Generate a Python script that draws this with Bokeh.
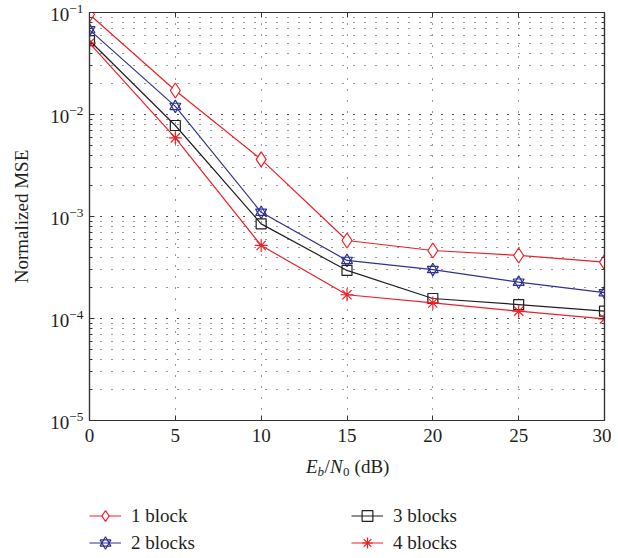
from bokeh.plotting import figure
from bokeh.layouts import column
from bokeh.models import (LogAxis, LinearAxis, Legend, LegendItem, Label, FixedTicker,
                          LogTicker, BasicTickFormatter, CustomLabelingPolicy, Range1d)
from bokeh.embed import file_html
from bokeh.resources import INLINE

# ---- data ----
ebn0_db = [0, 5, 10, 15, 20, 25, 30]
mse_1_block = [9.55e-2, 1.72e-2, 3.63e-3, 5.82e-4, 4.64e-4, 4.15e-4, 3.57e-4]
mse_2_blocks = [6.76e-2, 1.20e-2, 1.10e-3, 3.71e-4, 3.02e-4, 2.27e-4, 1.79e-4]
mse_3_blocks = [5.31e-2, 7.8e-3, 8.47e-4, 2.96e-4, 1.57e-4, 1.37e-4, 1.18e-4]
mse_4_blocks = [5.0e-2, 5.9e-3, 5.2e-4, 1.71e-4, 1.42e-4, 1.18e-4, 9.9e-5]
series_labels = ["1 block", "2 blocks", "3 blocks", "4 blocks"]
x_ticks = [0, 5, 10, 15, 20, 25, 30]

RED = "#ec2127"
BLUE = "#2e3192"
BLACK = "#231f20"
FONT = "Liberation Serif"
AX = "#333333"
TXT = "#231f20"

W = 611
H_TOP = 452
H_BOT = 556 - H_TOP

p = figure(width=W, height=H_TOP, x_range=(0, 30), y_range=(1e-5, 1e-1),
           y_axis_type="log", output_backend="svg", toolbar_location=None,
           min_border_left=89, min_border_right=5, min_border_top=12,
           min_border_bottom=32, background_fill_color="white",
           border_fill_color="white")
p.outline_line_color = AX
p.outline_line_width = 1.2

xt = FixedTicker(ticks=x_ticks, minor_ticks=[])
yt = LogTicker(num_minor_ticks=10)

hide_all = CustomLabelingPolicy(code="for (const i of indices) indices.unset(i); return indices")

def style_axis(ax, labels=True):
    ax.axis_line_color = AX
    ax.axis_line_width = 1.2
    ax.major_tick_in = 5
    ax.major_tick_out = 0
    ax.minor_tick_in = 3
    ax.minor_tick_out = 0
    ax.major_tick_line_color = AX
    ax.minor_tick_line_color = AX
    ax.major_label_text_font = FONT
    ax.major_label_text_color = TXT
    if labels:
        ax.major_label_text_font_size = "19px"
    else:
        ax.formatter = BasicTickFormatter()
        ax.major_label_text_font_size = "1px"
        ax.major_label_standoff = 0
        ax.major_label_policy = hide_all

xa = p.below[0]
xa.ticker = xt
style_axis(xa)
xa.major_label_standoff = 8
xa.minor_tick_line_color = None

ya = p.left[0]
ya.ticker = yt
style_axis(ya)
ya.major_label_standoff = 6
ya.axis_label = "Normalized MSE"
ya.axis_label_text_font = FONT
ya.axis_label_text_font_style = "normal"
ya.axis_label_text_font_size = "19px"
ya.axis_label_text_color = TXT
ya.axis_label_standoff = 15

top = LinearAxis(ticker=xt)
style_axis(top, labels=False)
top.minor_tick_line_color = None
p.add_layout(top, "above")
right = LogAxis(ticker=yt)
style_axis(right, labels=False)
p.add_layout(right, "right")

p.xgrid.ticker = xt
p.xgrid.grid_line_color = "#333333"
p.xgrid.grid_line_dash = "1 10"
p.ygrid.grid_line_color = "#333333"
p.ygrid.grid_line_dash = "1 10"
p.ygrid.minor_grid_line_color = "#333333"
p.ygrid.minor_grid_line_dash = "1 10"

lw = 1.2
styles = [
    (mse_1_block, RED, [dict(marker="diamond", size=15, fill_color="white")]),
    (mse_2_blocks, BLUE, [dict(marker="triangle", size=11, fill_color=None),
                          dict(marker="inverted_triangle", size=11, fill_color=None)]),
    (mse_3_blocks, BLACK, [dict(marker="square", size=10, fill_color=None)]),
    (mse_4_blocks, RED, [dict(marker="asterisk", size=13)]),
]

# lower strip: x-axis title and legend (own canvas, so nothing is clipped by the frame)
p2 = figure(width=W, height=H_BOT, x_range=Range1d(0, 1), y_range=Range1d(10, 11),
            output_backend="svg", toolbar_location=None, min_border=0,
            background_fill_color="white", border_fill_color="white")
p2.axis.visible = False
p2.grid.visible = False
p2.outline_line_color = None

legend_renderers = []
for vals, col, marks in styles:
    p.line(ebn0_db, vals, line_color=col, line_width=lw)
    for m in marks:
        p.scatter(ebn0_db, vals, line_color=col, line_width=lw, **m)
    # same series in the strip, outside its visible range: used only as legend samples
    rs = [p2.line(ebn0_db, vals, line_color=col, line_width=lw)]
    for m in marks:
        rs.append(p2.scatter(ebn0_db, vals, line_color=col, line_width=lw, **m))
    legend_renderers.append(rs)

def make_legend(idx, loc):
    items = [LegendItem(label=series_labels[i], renderers=legend_renderers[i]) for i in idx]
    lg = Legend(items=items, location=loc, orientation="vertical")
    lg.border_line_color = None
    lg.background_fill_alpha = 0
    lg.padding = 0
    lg.margin = 0
    lg.spacing = 0
    lg.glyph_width = 32
    lg.glyph_height = 27
    lg.label_height = 27
    lg.label_standoff = 10
    lg.label_text_font = FONT
    lg.label_text_font_size = "19px"
    lg.label_text_color = TXT
    return lg

p2.add_layout(make_legend([0, 1], (0, 0)), "center")
p2.add_layout(make_legend([2, 3], (262, 0)), "center")

# x-axis title: E_b/N_0 (dB), composed of real text pieces
parts = [("E", "italic", 19, 0, 11.6),
         ("b", "italic", 13, -5, 7.0),
         ("/", "normal", 19, 0, 5.6),
         ("N", "italic", 19, 0, 13.0),
         ("0", "normal", 13, -5, 11.5),
         ("(dB)", "normal", 19, 0, 35.5)]
total = sum(w for *_, w in parts)
x0 = 258.5 - total / 2
ybase = H_BOT - 14
for txt, style, size, dy, w in parts:
    p2.add_layout(Label(x=x0, y=ybase + dy, x_units="screen", y_units="screen",
                        text=txt, text_font=FONT, text_font_style=style,
                        text_font_size=f"{size}px", text_color=TXT,
                        text_align="left", text_baseline="middle"))
    x0 += w

layout = column(p, p2, spacing=0)
open("out.html", "w").write(file_html(layout, INLINE))
